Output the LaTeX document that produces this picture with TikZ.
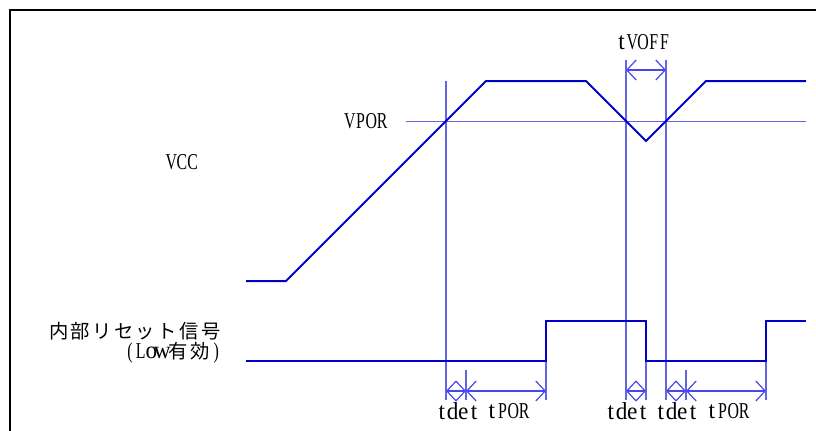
\documentclass[tikz,border=0pt]{standalone}
\usepackage{fontspec}
\setmainfont[FakeStretch=0.7]{Liberation Serif}
\newfontfamily\lcfont[FakeStretch=0.95,Scale=1.08]{Liberation Serif}
\newfontfamily\jpfont{Noto Sans CJK JP}
\usetikzlibrary{arrows.meta}
\definecolor{wavec}{HTML}{0000C8}
\definecolor{guidec}{HTML}{6464E4}
\definecolor{dimc}{HTML}{4848EA}
\makeatletter
\newcommand\hwtext[1]{\@tfor\hwc:=#1\do{\makebox[8.06pt][c]{\hwc}}}
\newcommand\hwl[1]{\@tfor\hwc:=#1\do{\makebox[8.06pt][c]{\lcfont\hwc}}}
\newcommand\fwtext[1]{{\jpfont\fontsize{14.5}{14.5}\selectfont\@tfor\fwc:=#1\do{\makebox[16.3pt][c]{\fwc}}}}
\makeatother
\begin{document}
\begin{tikzpicture}[x=0.75pt,y=-0.75pt,
  wave/.style={draw=wavec,line width=1.5pt,line join=miter},
  guide/.style={draw=guidec,line width=0.9pt},
  dimline/.style={draw=dimc,line width=0.9pt,
    {Straight Barb[length=7pt,width=15pt]}-{Straight Barb[length=7pt,width=15pt]}},
  lbl/.style={inner sep=0pt,font=\fontsize{17}{17}\selectfont},
  jplbl/.style={lbl,anchor=base east,text height=10pt,text depth=1.5pt}]
\useasboundingbox (0,0) rectangle (816,430);
\fill[white] (0,0) rectangle (816,430);
% frame
\draw[black,line width=1.5pt] (10,431) -- (10,10) -- (817,10);
% VPOR level
\draw[guide,line width=0.75pt] (406,121) -- (806,121);
% guide lines
\draw[guide] (446,81) -- (446,400);
\draw[guide] (626,60) -- (626,400);
\draw[guide] (666,60) -- (666,400);
\draw[guide] (466,370) -- (466,400);
\draw[guide] (686,370) -- (686,400);
\draw[guide] (546,361) -- (546,400);
\draw[guide] (646,361) -- (646,400);
\draw[guide] (766,361) -- (766,400);
% VCC waveform
\draw[wave] (246,281) -- (286,281) -- (486,81) -- (586,81) -- (646,141) -- (706,81) -- (806,81);
% reset waveform
\draw[wave] (246,361) -- (546,361) -- (546,321) -- (646,321) -- (646,361) -- (766,361) -- (766,321) -- (806,321);
% dimension coordinates
\coordinate (a1) at (446,391);
\coordinate (a2) at (466,391);
\coordinate (a3) at (546,391);
\coordinate (b1) at (626,391);
\coordinate (b2) at (646,391);
\coordinate (c1) at (666,391);
\coordinate (c2) at (686,391);
\coordinate (c3) at (766,391);
\coordinate (v1) at (626,70);
\coordinate (v2) at (666,70);
\draw[dimline] (a1) -- (a2);
\draw[dimline] (a2) -- (a3);
\draw[dimline] (b1) -- (b2);
\draw[dimline] (c1) -- (c2);
\draw[dimline] (c2) -- (c3);
\draw[dimline] (v1) -- (v2);
% labels
\node[lbl] (tvoff) at (643,42) {\hwl{t}\hwtext{VOFF}};
\node[lbl] (vpor) at (366,121) {\hwtext{VPOR}};
\node[lbl] (vcc) at (182,162) {\hwtext{VCC}};
\node[lbl] (td1) at (458,411) {\hwl{tdet}};
\node[lbl] (tp1) at (508,411) {\hwl{t}\hwtext{POR}};
\node[lbl] (td2) at (627,411) {\hwl{tdet}};
\node[lbl] (td3) at (677,411) {\hwl{tdet}};
\node[lbl] (tp2) at (728,411) {\hwl{t}\hwtext{POR}};
\node[jplbl] (rst) at (222,338.5) {\fwtext{内部リセット信号}};
\node[jplbl] (low) at (222,358.5) {\hwtext{(L}\hwl{ow}\fwtext{有効}\hwtext{)}};
\end{tikzpicture}
\end{document}
